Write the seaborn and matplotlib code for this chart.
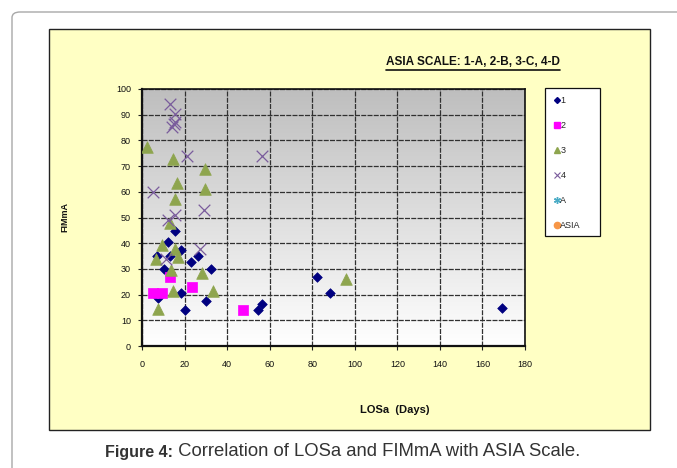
import numpy as np
import pandas as pd
import matplotlib
matplotlib.use("Agg")
import matplotlib.pyplot as plt
import seaborn as sns
from matplotlib.patches import Rectangle, FancyBboxPatch
from matplotlib.lines import Line2D
from matplotlib.colors import LinearSegmentedColormap

# =========================
# DATA
# =========================
los_1 = [7.2, 7.4, 10.2, 12.2, 13.2, 15.4, 18.2, 18.2, 20.4, 23.2, 26.2, 30.3, 32.3,
         54.3, 56.3, 82.4, 88.3, 169.4]
fim_1 = [35.0, 18.6, 29.8, 40.5, 35.0, 44.9, 37.4, 20.6, 14.0, 32.8, 35.0, 17.4, 29.8,
         14.0, 16.2, 26.7, 20.6, 14.8]

los_2 = [5.3, 9.3, 13.2, 23.4, 47.4]
fim_2 = [20.7, 20.6, 26.7, 22.8, 14.0]

los_3 = [2.5, 14.4, 16.5, 29.5, 29.5, 15.4, 13.2, 9.6, 6.6, 15.4, 17.1, 13.5, 28.4,
         14.4, 33.6, 7.5, 95.7]
fim_3 = [77.6, 72.6, 63.5, 68.7, 61.2, 57.1, 48.0, 39.3, 33.7, 37.7, 34.8, 29.6, 28.5,
         21.5, 21.5, 14.5, 25.9]

los_4 = [13.2, 15.5, 15.5, 15.1, 14.3, 21.3, 56.5, 5.2, 15.5, 12.1, 29.3, 27.3, 11.1]
fim_4 = [94.0, 90.2, 87.3, 86.3, 85.1, 73.9, 73.9, 59.8, 50.8, 49.0, 52.9, 37.6, 33.7]

legend_labels = ["1", "2", "3", "4", "A", "ASIA"]
x_ticks = [0, 20, 40, 60, 80, 100, 120, 140, 160, 180]
y_ticks = [0, 10, 20, 30, 40, 50, 60, 70, 80, 90, 100]

# =========================
# STYLE
# =========================
sns.set_style("white")
plt.rcParams["font.family"] = ["Liberation Sans", "DejaVu Sans"]

W, H = 677, 468
fig = plt.figure(figsize=(W / 100, H / 100), dpi=100)

# outer rounded frame + yellow chart area
fig.patches.append(FancyBboxPatch((12 / W, -0.1), 1.2, 1 - 12 / H + 0.1,
                                  boxstyle="round,pad=0,rounding_size=0.012",
                                  transform=fig.transFigure, facecolor="white",
                                  edgecolor="#a8a8a8", lw=1.0, zorder=-3))
fig.patches.append(Rectangle((49 / W, 1 - 430 / H), 601 / W, 401 / H,
                             transform=fig.transFigure, facecolor="#ffffc4",
                             edgecolor="#222222", lw=1.0, zorder=-2))
# legend box
fig.patches.append(Rectangle((545 / W, 1 - 236 / H), 55 / W, 148 / H,
                             transform=fig.transFigure, facecolor="white",
                             edgecolor="#111111", lw=0.9, zorder=-1))

ax = fig.add_axes([142 / W, 1 - 346 / H, 383 / W, 257 / H])

# grey-to-white gradient plot background
grad = np.linspace(0, 1, 256).reshape(-1, 1)
cmap = LinearSegmentedColormap.from_list("bg", ["#ffffff", "#bebebe"])
ax.imshow(grad, extent=[0, 1, 0, 1], transform=ax.transAxes, origin="lower",
          aspect="auto", cmap=cmap, zorder=0)

series = [
    (los_1, fim_1, "D", "#000080", 24),
    (los_2, fim_2, "s", "#ff00ff", 50),
    (los_3, fim_3, "^", "#8ea54e", 70),
    (los_4, fim_4, "x", "#7a5c9c", 70),
]
for xs, ys, mk, col, sz in series:
    df = pd.DataFrame({"LOSa": xs, "FIMmA": ys})
    if mk == "x":
        sns.scatterplot(data=df, x="LOSa", y="FIMmA", marker=mk, color=col, s=sz,
                        linewidth=0.9, ax=ax, zorder=3)
    else:
        sns.scatterplot(data=df, x="LOSa", y="FIMmA", marker=mk, color=col, s=sz,
                        edgecolor=col, linewidth=0.5, ax=ax, zorder=3)

ax.set_xlim(0, 180)
ax.set_ylim(0, 100)
ax.set_xticks(x_ticks)
ax.set_yticks(y_ticks)
ax.set_xlabel("")
ax.set_ylabel("")
ax.set_axisbelow(True)
ax.grid(True, color="#303030", lw=0.9, linestyle=(0, (4, 1)))
for sp in ax.spines.values():
    sp.set_visible(True)
    sp.set_color("#111111")
    sp.set_linewidth(1.2)
ax.spines["left"].set_linewidth(1.6)
ax.spines["bottom"].set_linewidth(1.6)
ax.tick_params(axis="both", direction="out", length=3, width=0.8, color="#222222",
               labelsize=6.5, labelcolor="#111111", bottom=True, left=True)
ax.tick_params(axis="x", pad=7)
ax.tick_params(axis="y", pad=5)

# legend (includes the empty A and ASIA series)
handles = [
    Line2D([], [], ls="none", marker="D", ms=3, color="#000080"),
    Line2D([], [], ls="none", marker="s", ms=5, color="#ff00ff"),
    Line2D([], [], ls="none", marker="^", ms=5, color="#8ea54e"),
    Line2D([], [], ls="none", marker="x", ms=4, mew=0.8, color="#7a5c9c"),
    Line2D([], [], ls="none", marker=(6, 2, 0), ms=5, mew=1.0, color="#4bacc6"),
    Line2D([], [], ls="none", marker="o", ms=4.5, color="#f79646"),
]
leg = fig.legend(handles, legend_labels, loc="upper left",
                 bbox_to_anchor=(554 / W, 1 - 96 / H), frameon=False,
                 fontsize=6.5, labelspacing=1.78, handlelength=0.6, handletextpad=0.1,
                 borderpad=0.0, borderaxespad=0)

# texts
fig.text(65 / W, 1 - 217 / H, "FIMmA", rotation=90, ha="center", va="center",
         fontsize=6.5, fontweight="bold", color="#111111")
fig.text(395 / W, 1 - 410 / H, "LOSa  (Days)", ha="center", va="center",
         fontsize=8, fontweight="bold", color="#111111")
title = fig.text(473 / W, 1 - 62 / H, "ASIA SCALE: 1-A, 2-B, 3-C, 4-D", ha="center",
                 va="center", fontsize=8.5, fontweight="bold", color="#111111")
fig.canvas.draw()
tb = title.get_window_extent()
yu = (tb.y0 - 1.5) / H
fig.add_artist(Line2D([tb.x0 / W, tb.x1 / W], [yu, yu], transform=fig.transFigure,
                      color="#111111", lw=1.2))

cap1 = fig.text(105 / W, 1 - 452 / H, "Figure 4:", ha="left", va="center",
                fontsize=11.5, fontweight="bold", color="#333333")
fig.canvas.draw()
cb = cap1.get_window_extent()
fig.text(cb.x1 / W, 1 - 452 / H, " Correlation of LOSa and FIMmA with ASIA Scale.",
         ha="left", va="center", fontsize=13.3, color="#333333")

fig.savefig("out.png", dpi=100)
